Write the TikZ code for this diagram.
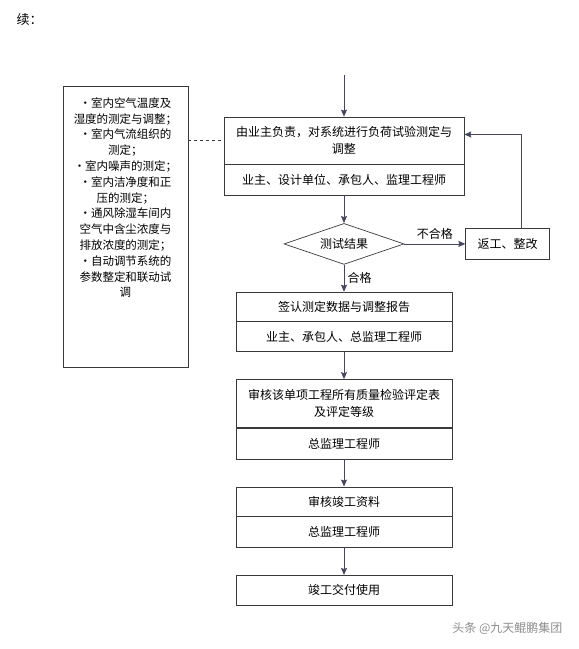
\documentclass[tikz,border=0pt]{standalone}
\usepackage{fontspec}
\setmainfont{Noto Sans CJK SC}
\usepackage{tikz}
\usetikzlibrary{arrows.meta,positioning,shapes.geometric}
\definecolor{edge}{HTML}{3A3A3A}
\definecolor{flow}{HTML}{46465E}
\definecolor{wmgray}{HTML}{8C8C8C}

\begin{document}
\begin{tikzpicture}[x=1pt,y=-1pt,node distance=27pt and 61pt, every node/.style={font=\fontsize{12}{17}\selectfont}, box/.style={draw=edge,line width=.7pt,minimum width=216pt,align=center,inner sep=2pt}, check/.style={diamond,draw=edge,line width=.7pt,aspect=2.9,minimum width=120pt,minimum height=41pt,inner sep=0pt}, arr/.style={draw=flow,line width=.8pt,-{Stealth[length=7pt,width=6pt,inset=1pt]}}]
\useasboundingbox (0,0) rectangle (579,649);
\node[anchor=west,font=\fontsize{13}{15}\selectfont] (title) at (13,20) {续：};
\coordinate (top) at (344,75);
\node[box,minimum width=240pt,minimum height=47pt] (b1) at (344,140.5) {由业主负责，对系统进行负荷试验测定与\\调整};
\node[box,minimum width=240pt,minimum height=31pt,below=0pt of b1] (b1s) {业主、设计单位、承包人、监理工程师};
\node[check,below=of b1s] (test) {测试结果};
\node[box,minimum width=84pt,minimum height=31pt,right=of test] (redo) {返工、整改};
\node[box,minimum height=29pt,below=of test] (b2) {签认测定数据与调整报告};
\node[box,minimum height=30pt,below=0pt of b2] (b2s) {业主、承包人、总监理工程师};
\node[box,minimum height=48pt,below=of b2s] (b3) {审核该单项工程所有质量检验评定表\\及评定等级};
\node[box,minimum height=31pt,below=0pt of b3] (b3s) {总监理工程师};
\node[box,minimum height=29pt,below=of b3s] (b4) {审核竣工资料};
\node[box,minimum height=31pt,below=0pt of b4] (b4s) {总监理工程师};
\node[box,minimum height=30pt,below=of b4s] (b5) {竣工交付使用};
% left list of tests
\node[box,minimum width=125pt,minimum height=281pt] (items) at (125.5,226.5) {};
\node[anchor=north,align=center,font=\fontsize{11.5}{15.8}\selectfont] (itemtext) at (125.5,94) { ·室内空气温度及\\湿度的测定与调整；\\ ·室内气流组织的\\测定；\\ ·室内噪声的测定；\\ ·室内洁净度和正\\压的测定；\\ ·通风除湿车间内\\空气中含尘浓度与\\排放浓度的测定；\\ ·自动调节系统的\\参数整定和联动试\\调};
\draw[dashed,edge,line width=.7pt] (items.east |- b1.west) -- (b1.west);
\foreach \a/\b in {top/b1,b1s/test,b2s/b3,b3s/b4,b4s/b5}{\draw[arr] (\a)--(\b);}
\draw[arr] (test) -- node[above,yshift=1pt]{不合格} (redo);
\draw[arr] (test) -- node[right]{合格} (b2);
\draw[arr] ([xshift=14pt]redo.north) |- ([yshift=6pt]b1.east);
\node[text=wmgray,anchor=east] (wm) at (566,628) {头条 @九天鲲鹏集团};
\end{tikzpicture}
\end{document}
